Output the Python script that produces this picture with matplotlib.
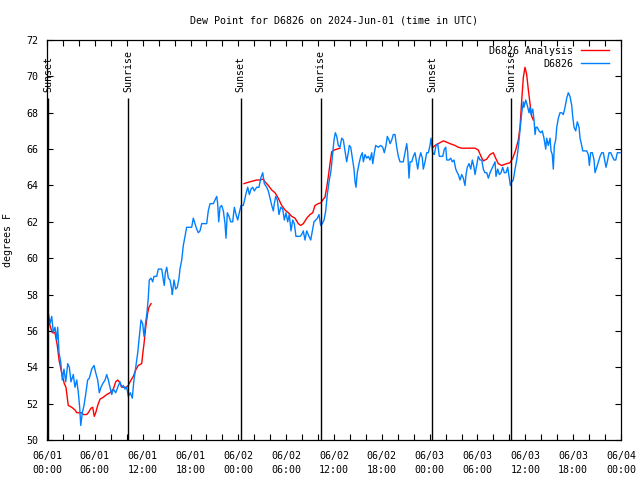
import matplotlib
matplotlib.use("Agg")
import matplotlib.pyplot as plt
import numpy as np

# hours since 2024-06-01 00:00 UTC
obs_hours = [0.16, 0.38, 0.59, 0.79, 1.0, 1.22, 1.34, 1.51, 1.72, 1.92, 2.13, 2.35, 2.6, 2.8,
             3.01, 3.3, 3.51, 3.73, 3.93, 4.1, 4.23, 4.43, 4.64, 4.85, 5.1, 5.31, 5.61, 5.9,
             6.11, 6.36, 6.56, 6.77, 6.99, 7.28, 7.49, 7.69, 7.9, 8.12, 8.32, 8.62, 8.87, 9.16,
             9.37, 9.57, 9.78, 10.0, 10.2, 10.45, 10.7, 10.88, 11.13, 11.38, 11.58, 11.79, 12.0,
             12.17, 12.38, 12.54, 12.7, 12.83, 13.05, 13.26, 13.42, 13.76, 13.96, 14.39, 14.59,
             14.71, 14.84, 15.02, 15.22, 15.43, 15.64, 15.72, 15.93, 16.14, 16.34, 16.56, 16.68,
             16.9, 17.1, 17.31, 17.52, 17.94, 18.15, 18.35, 18.57, 18.78, 18.98, 19.19, 19.41,
             19.61, 20.03, 20.23, 20.45, 20.86, 21.07, 21.29, 21.41, 21.54, 21.7, 21.91, 22.12,
             22.33, 22.45, 22.62, 22.83, 23.04, 23.29, 23.5, 23.71, 23.92, 24.12, 24.34, 24.62,
             24.84, 24.93, 25.18, 25.38, 25.59, 25.8, 26.0, 26.3, 26.59, 26.81, 27.06, 27.26,
             27.56, 27.76, 27.97, 28.19, 28.39, 28.51, 28.69, 28.89, 29.1, 29.32, 29.57, 29.77,
             29.98, 30.19, 30.39, 30.61, 30.82, 31.02, 31.23, 31.74, 31.95, 32.15, 32.36, 32.58,
             32.86, 33.08, 33.28, 33.49, 33.71, 33.91, 34.12, 34.33, 34.53, 34.75, 34.96, 35.16,
             35.41, 35.62, 35.84, 36.0, 36.17, 36.34, 36.54, 36.75, 36.97, 37.17, 37.38, 37.59,
             37.79, 37.92, 38.1, 38.3, 38.51, 38.64, 38.76, 38.92, 39.14, 39.35, 39.55, 39.68,
             39.89, 40.1, 40.3, 40.52, 40.73, 40.86, 41.06, 41.23, 41.56, 41.86, 42.11, 42.31,
             42.52, 42.69, 42.9, 43.03, 43.24, 43.44, 43.65, 43.87, 44.07, 44.28, 44.69, 44.91,
             45.12, 45.25, 45.41, 45.54, 45.75, 45.95, 46.16, 46.38, 46.5, 46.7, 46.88, 47.08,
             47.2, 47.42, 47.63, 47.83, 48.04, 48.17, 48.38, 48.58, 48.8, 49.01, 49.21, 49.64,
             49.84, 50.02, 50.14, 50.43, 50.64, 50.84, 51.05, 51.27, 51.47, 51.6, 51.81, 52.02,
             52.22, 52.43, 52.56, 52.72, 52.94, 53.15, 53.35, 53.56, 53.69, 53.9, 54.1, 54.32,
             54.53, 54.73, 54.94, 55.16, 55.36, 55.57, 55.78, 55.98, 56.2, 56.32, 56.54, 56.74,
             56.95, 57.16, 57.36, 57.58, 57.79, 57.99, 58.12, 58.29, 58.49, 58.71, 58.92, 59.12,
             59.33, 59.55, 59.75, 59.83, 60.05, 60.25, 60.46, 60.59, 60.71, 60.93, 61.09, 61.22,
             61.34, 61.5, 61.72, 61.93, 62.13, 62.34, 62.56, 62.68, 62.88, 63.1, 63.22, 63.38,
             63.51, 63.64, 63.81, 63.94, 64.14, 64.35, 64.56, 64.76, 64.98, 65.19, 65.39, 65.6,
             65.82, 65.94, 66.11, 66.32, 66.52, 66.74, 66.86, 67.07, 67.2, 67.49, 67.7, 67.9,
             68.03, 68.2, 68.41, 68.62, 68.74, 68.96, 69.16, 69.37, 69.58, 69.78, 69.99, 70.12,
             70.28, 70.5, 70.71, 70.91, 71.13, 71.34, 71.54, 71.88]
obs_dewpt = [57.0, 56.4, 56.8, 55.9, 56.2, 55.5, 56.2, 54.8, 54.3, 53.3, 53.9, 53.2, 54.2, 54.0,
             53.2, 53.6, 52.9, 53.3, 52.6, 51.8, 50.8, 51.5, 51.9, 52.5, 53.3, 53.4, 53.9, 54.1,
             53.7, 53.3, 52.6, 52.9, 53.1, 53.3, 53.6, 53.3, 52.9, 52.5, 52.8, 52.6, 52.9, 53.2,
             52.9, 53.0, 52.8, 52.9, 52.4, 52.6, 52.3, 53.2, 54.0, 54.8, 55.7, 56.6, 56.4,
             55.7, 56.5, 57.0, 57.8, 58.8, 58.9, 58.7, 59.0, 59.0, 59.4, 59.4, 58.8,
             58.5, 59.2, 59.5, 58.9, 58.8, 58.3, 58.0, 58.8, 58.3, 58.4, 58.9, 59.4,
             59.9, 60.7, 61.2, 61.7, 61.7, 61.7, 62.2, 61.9, 61.6, 61.4, 61.5, 61.9,
             61.9, 61.9, 62.6, 63.0, 63.0, 63.2, 63.4, 63.0, 62.0, 62.8, 62.9, 62.6,
             61.9, 61.1, 62.5, 62.3, 62.0, 62.0, 62.8, 62.4, 62.1, 62.5, 62.9, 62.9,
             63.3, 63.5, 63.9, 63.5, 63.8, 63.9, 63.7, 63.9, 63.9, 64.4, 64.7, 64.1,
             63.9, 63.7, 63.3, 62.9, 62.6, 63.0, 63.4, 63.2, 62.4, 62.8, 62.7, 62.1,
             62.5, 62.0, 62.4, 61.5, 62.1, 61.9, 61.2, 61.2, 61.3, 61.5, 61.0, 61.5,
             61.2, 61.0, 61.5, 62.0, 62.1, 62.2, 62.4, 61.8, 61.9, 62.1, 62.6, 63.5,
             64.3, 64.8, 65.8, 66.5, 66.9, 66.7, 66.2, 66.1, 66.6, 66.5, 65.9, 65.3,
             65.8, 66.2, 66.1, 65.5, 64.9, 64.2, 63.9, 64.7, 65.2, 65.6, 65.8, 65.3,
             65.7, 65.5, 65.6, 65.4, 65.8, 65.2, 65.8, 66.2, 66.1, 66.2, 66.1, 65.8,
             66.2, 66.7, 66.5, 66.3, 66.5, 66.8, 66.8, 66.1, 65.6, 65.3, 65.3, 65.8,
             66.3, 65.8, 64.4, 65.3, 65.3, 65.6, 65.8, 65.2, 64.9, 65.5, 65.8, 65.5,
             64.9, 65.3, 65.8, 65.8, 66.2, 66.6, 65.8, 65.7, 66.2, 66.3, 65.6, 65.6,
             66.0, 66.1, 65.4, 65.4, 65.5, 65.3, 65.4, 64.9, 64.7, 64.6, 64.3, 64.6,
             64.4, 64.0, 64.6, 65.0, 65.2, 64.9, 65.4, 65.0, 64.6, 65.1, 65.6, 65.4,
             65.4, 64.9, 64.7, 64.7, 64.4, 64.7, 64.9, 65.1, 65.3, 64.5, 64.9, 64.6,
             64.7, 65.0, 64.7, 64.7, 65.0, 64.4, 64.0, 64.2, 64.3, 64.9, 65.4, 66.1,
             67.0, 68.0, 68.6, 68.3, 68.7, 68.4, 68.0, 68.3, 67.9, 68.2, 67.6, 66.8,
             67.2, 67.2, 67.0, 66.9, 67.0, 66.6, 66.0, 66.6, 66.2, 66.6, 65.9, 65.7,
             64.9, 66.2, 66.5, 67.2, 67.7, 68.0, 68.0, 67.9, 68.3, 68.8, 69.1, 68.9,
             68.4, 67.8, 67.2, 67.0, 67.5, 67.2, 66.6, 66.2, 65.9, 65.9, 65.9, 65.7,
             65.1, 65.8, 65.8, 65.4, 64.7, 65.0, 65.3, 65.6, 65.8, 65.8, 65.3, 65.0,
             65.3, 65.8, 65.8, 65.6, 65.4, 65.4, 65.8, 65.8]

# analysis only covers three windows
ana1_hours = [0.16, 0.66, 1.0, 1.29, 1.51, 1.84, 2.17, 2.38, 2.55, 2.67, 3.1, 3.51, 3.73, 4.05,
              4.35, 4.55, 4.98, 5.18, 5.52, 5.73, 5.93, 6.11, 6.36, 6.65, 7.06, 7.49, 7.9,
              8.32, 8.62, 8.87, 9.07, 9.37, 9.7, 9.91, 10.2, 10.54, 10.83, 11.13, 11.45, 11.88,
              12.0, 12.17, 12.38, 12.63, 12.79, 13.05]
ana1_dewpt = [56.6, 55.9, 55.9, 55.2, 54.4, 53.7, 53.1, 52.9, 52.3, 51.9, 51.8, 51.65, 51.5, 51.5,
              51.5, 51.4, 51.4, 51.5, 51.75, 51.8, 51.3, 51.5, 51.9, 52.25, 52.35, 52.5, 52.6,
              52.8, 53.2, 53.3, 53.2, 52.9, 52.9, 52.9, 53.0, 53.3, 53.5, 53.85, 54.1, 54.2,
              54.7, 55.3, 56.2, 57.0, 57.3, 57.5]
ana2_hours = [24.71, 25.05, 25.46, 25.88, 26.3, 26.72, 27.13, 27.35, 27.76, 28.19, 28.6, 29.01,
              29.44, 29.86, 30.27, 30.7, 31.11, 31.52, 31.82, 32.15, 32.58, 32.99, 33.33, 33.62,
              34.03, 34.37, 34.66, 34.87, 35.09, 35.29, 35.5, 35.71, 36.04, 36.38, 36.75]
ana2_dewpt = [64.1, 64.15, 64.2, 64.25, 64.3, 64.3, 64.35, 64.2, 64.0, 63.75, 63.6, 63.3,
              62.9, 62.65, 62.5, 62.3, 62.2, 61.9, 61.8, 61.9, 62.2, 62.4, 62.5, 62.9,
              63.0, 63.05, 63.25, 63.35, 63.9, 64.5, 65.2, 65.85, 65.95, 66.0, 66.05]
ana3_hours = [48.42, 48.67, 49.08, 49.71, 50.02, 50.55, 51.18, 51.59, 52.02, 52.85, 53.69, 54.1,
              54.44, 54.73, 55.16, 55.57, 55.98, 56.28, 56.61, 57.04, 57.67, 58.08, 58.42,
              58.79, 59.12, 59.33, 59.55, 59.75, 59.96, 60.17, 60.38, 60.59, 60.8, 61.0]
ana3_dewpt = [66.1, 66.2, 66.3, 66.45, 66.4, 66.3, 66.2, 66.1, 66.05, 66.05, 66.05, 65.95,
              65.6, 65.35, 65.45, 65.7, 65.8, 65.5, 65.2, 65.1, 65.2, 65.25, 65.5,
              65.95, 66.5, 67.2, 68.7, 69.95, 70.5, 70.1, 69.25, 68.5, 67.8, 67.6]

sun_hours = [0.13, 10.2, 24.3, 34.33, 48.3, 58.2]
sun_labels = ["Sunset", "Sunrise", "Sunset", "Sunrise", "Sunset", "Sunrise"]

tick_hours = list(range(0, 73, 6))
tick_labels = ["06/01\n00:00", "06/01\n06:00", "06/01\n12:00", "06/01\n18:00",
               "06/02\n00:00", "06/02\n06:00", "06/02\n12:00", "06/02\n18:00",
               "06/03\n00:00", "06/03\n06:00", "06/03\n12:00", "06/03\n18:00",
               "06/04\n00:00"]

plt.rcParams["font.family"] = "DejaVu Sans Mono"
plt.rcParams["font.size"] = 7.2

fig = plt.figure(figsize=(6.4, 4.8), dpi=100)
ax = fig.add_axes([47 / 640, 40 / 480, 574 / 640, 400 / 480])

ax.plot(ana1_hours, ana1_dewpt, color="#ff0000", lw=1.0, label="D6826 Analysis")
ax.plot(ana2_hours, ana2_dewpt, color="#ff0000", lw=1.0)
ax.plot(ana3_hours, ana3_dewpt, color="#ff0000", lw=1.0)
ax.plot(obs_hours, obs_dewpt, color="#0080ff", lw=1.0, label="D6826")

for h, lab in zip(sun_hours, sun_labels):
    ax.vlines(h, 50, 68.8, color="black", lw=1.0)
    ax.text(h, 69.15, lab, rotation=90, ha="center", va="bottom", clip_on=False)

ax.set_xlim(0, 72)
ax.set_ylim(50, 72)
ax.set_xticks(np.arange(0, 73, 2), minor=True)
ax.set_xticks(tick_hours)
ax.set_xticklabels(tick_labels, linespacing=1.5)
ax.set_yticks(np.arange(50, 73, 2))
ax.tick_params(which="both", direction="in", top=True, right=True, length=4, width=0.8)
ax.tick_params(axis="x", pad=8)
ax.tick_params(axis="y", pad=6)
for sp in ax.spines.values():
    sp.set_linewidth(0.9)

ax.set_title("Dew Point for D6826 on 2024-Jun-01 (time in UTC)", fontsize=7.2, pad=12)
ax.set_ylabel("degrees F", labelpad=10)

ax.legend(loc="upper right", bbox_to_anchor=(1 - 6 / 574, 1), frameon=False,
          markerfirst=False, handlelength=2.8, handletextpad=0.8,
          borderaxespad=0.2, labelspacing=0.3)

fig.savefig("out.png", dpi=100)
